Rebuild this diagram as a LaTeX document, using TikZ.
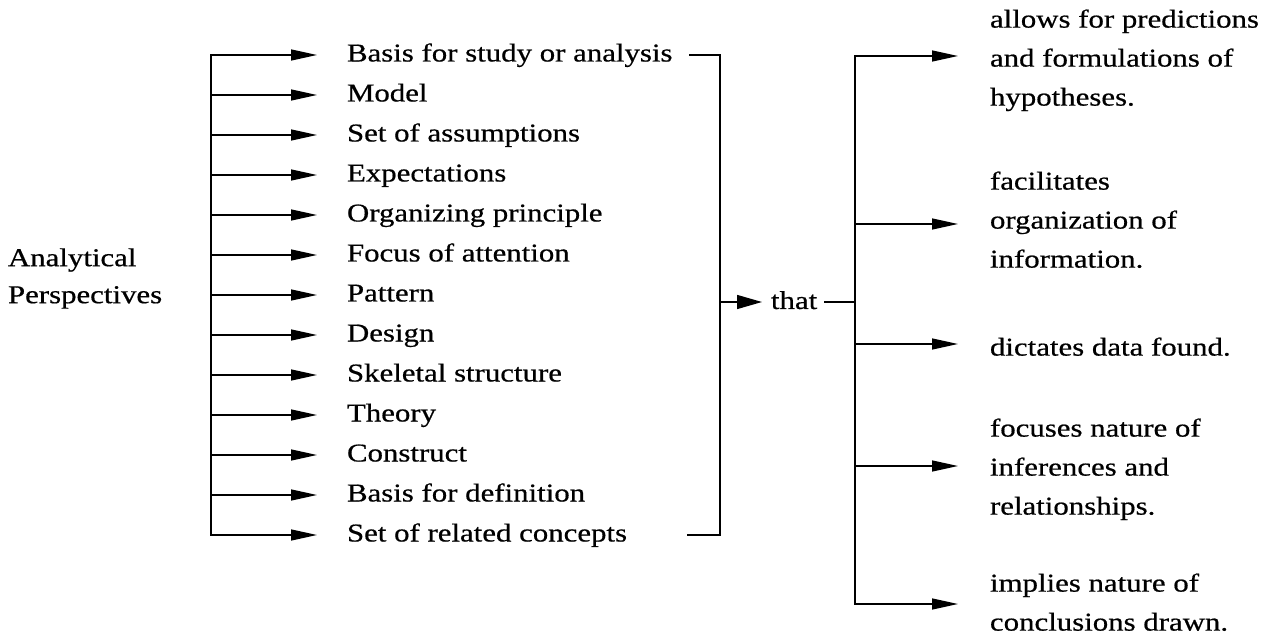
\documentclass[tikz,border=0pt]{standalone}
\usepackage{fontspec}
\setmainfont{Liberation Serif}[FakeStretch=1.2,FakeBold=0.6]
\usetikzlibrary{arrows.meta}
\begin{document}
\begin{tikzpicture}[x=1pt,y=-1pt,
  every node/.style={inner sep=0pt, outer sep=0pt, font=\fontsize{25.7}{39}\selectfont},
  ln/.style={line width=1.4pt, line cap=rect},
  arr/.style={line width=1.4pt, -{Triangle[length=26pt,width=11pt]}},
  arrbig/.style={line width=1.4pt, -{Triangle[length=25pt,width=14pt]}},
  blk/.style={anchor=north west, align=left},
]
\useasboundingbox (0,0) rectangle (1272,636);

% left title
\node[anchor=west, align=left, font=\fontsize{25.7}{37}\selectfont] (ap) at (8,278.5) {Analytical\\Perspectives};

% list of items
\foreach \t [count=\i] in {Basis for study or analysis, Model, Set of assumptions, Expectations,
  Organizing principle, Focus of attention, Pattern, Design, Skeletal structure, Theory,
  Construct, Basis for definition, Set of related concepts}{
  \coordinate (L\i) at (211,15+40*\i);
  \node[anchor=base west] (I\i) at (347,21.5+40*\i) {\t};
  \draw[arr, shorten >=30pt] (L\i) -- (L\i -| I\i.west);
}
\draw[ln] (L1) -- (L13);

% bracket and "that"
\coordinate (b1) at (690,55);
\coordinate (b2) at (688,535);
\coordinate (bm) at (720,302);
\draw[ln] (b1) -| (bm) |- (b2);
\node[anchor=base west] (th) at (771,309) {that};
\draw[arrbig, shorten >=9pt] (bm) -- (bm -| th.west);
\coordinate (rm) at (855,302);
\draw[ln, shorten <=7pt] (rm -| th.east) -- (rm);

% right trunk
\coordinate (R1) at (855,56);
\coordinate (R2) at (855,224);
\coordinate (R3) at (855,344);
\coordinate (R4) at (855,466);
\coordinate (R5) at (855,604);
\draw[ln] (R1) -- (R5);

\node[blk] (t1) at (990,9.5) {allows for predictions\\and formulations of\\hypotheses.};
\node[blk] (t2) at (990,171.5) {facilitates\\organization of\\information.};
\node[blk] (t3) at (990,337.5) {dictates data found.};
\node[blk] (t4) at (990,418.5) {focuses nature of\\inferences and\\relationships.};
\node[blk] (t5) at (990,573.5) {implies nature of\\conclusions drawn.};

\foreach \i in {1,...,5}{
  \draw[arr, shorten >=32pt] (R\i) -- (R\i -| t\i.west);
}
\end{tikzpicture}
\end{document}
